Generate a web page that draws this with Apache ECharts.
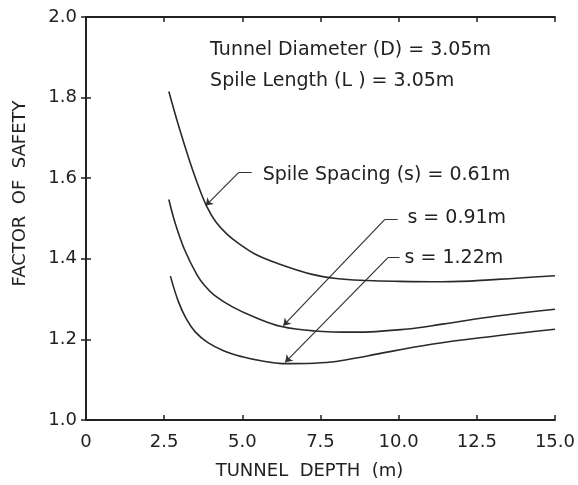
<!DOCTYPE html>
<html>
<head>
<meta charset="utf-8">
<script src="https://cdn.jsdelivr.net/npm/echarts@6/dist/echarts.min.js"></script>
<style>
  html, body { margin: 0; padding: 0; background: #fff; }
  #chart { width: 578px; height: 485px; }
</style>
</head>
<body>
<div id="chart"></div>
<script>
// tunnel depth (m) vs factor of safety, one curve per spile spacing
const depth061 = [2.65, 2.95, 3.25, 3.55, 3.85, 4.15, 4.5, 4.9, 5.4, 6.15, 7.2, 8.0, 9.0, 10.0, 11.4, 13.15, 15.0];
const fos061   = [1.815, 1.733, 1.658, 1.590, 1.532, 1.492, 1.462, 1.437, 1.412, 1.388, 1.362, 1.351, 1.346, 1.344, 1.343, 1.349, 1.358];

const depth091 = [2.65, 2.85, 3.15, 3.55, 3.8, 4.1, 4.7, 5.4, 6.25, 7.3, 8.6, 10.3, 11.4, 13.15, 15.0];
const fos091   = [1.547, 1.489, 1.423, 1.360, 1.333, 1.310, 1.280, 1.255, 1.232, 1.221, 1.218, 1.226, 1.238, 1.258, 1.275];

const depth122 = [2.7, 2.95, 3.2, 3.5, 3.9, 4.4, 5.0, 5.6, 6.3, 7.3, 8.0, 9.0, 11.05, 13.15, 15.0];
const fos122   = [1.357, 1.295, 1.252, 1.218, 1.192, 1.172, 1.157, 1.147, 1.140, 1.141, 1.145, 1.159, 1.188, 1.209, 1.225];

// annotation text, anchored at its left-middle point (data units)
const noteText = ['Tunnel Diameter (D) = 3.05m', 'Spile Length (L ) = 3.05m', 'Spile Spacing (s) = 0.61m', 's = 0.91m', 's = 1.22m'];
const noteX = [3.97, 3.97, 5.65, 10.28, 10.19];
const noteY = [1.918, 1.842, 1.609, 1.500, 1.401];

// leader lines: short horizontal stub at the text, then a diagonal to the arrow tip on the curve
const stubs = [
  [[5.3, 1.614], [4.88, 1.614]],
  [[9.97, 1.498], [9.56, 1.498]],
  [[10.03, 1.403], [9.66, 1.403]],
];
const pointers = [
  [[4.88, 1.614], [3.83, 1.532]],
  [[9.56, 1.498], [6.31, 1.234]],
  [[9.66, 1.403], [6.37, 1.143]],
];

const xTicks = [0, 2.5, 5, 7.5, 10, 12.5, 15];

const ink = '#222';
const font = 'DejaVu Sans';

const zip = (xs, ys) => xs.map((x, i) => [x, ys[i]]);

const curve = (name, xs, ys) => ({
  name,
  type: 'line',
  data: zip(xs, ys),
  smooth: 0.4,
  showSymbol: false,
  lineStyle: { color: '#2a2a2a', width: 1.6 },
  silent: true,
});

const leader = (coords, arrow) => ({
  type: 'lines',
  coordinateSystem: 'cartesian2d',
  silent: true,
  symbol: arrow ? ['none', 'arrow'] : ['none', 'none'],
  symbolSize: 7,
  lineStyle: { color: '#333', width: 1.2, opacity: 1 },
  data: coords.map(c => ({ coords: c })),
});

const chart = echarts.init(document.getElementById('chart'), null, { renderer: 'canvas' });

const frameAxis = {
  show: true,
  axisLine: { show: true, lineStyle: { color: ink, width: 1.8 } },
  axisTick: { show: true, inside: true, length: 5, lineStyle: { color: ink, width: 1.5 } },
  axisLabel: { show: false },
  splitLine: { show: false },
};

chart.setOption({
  animation: false,
  backgroundColor: '#fff',
  grid: { left: 86, right: 12, top: 17, bottom: 64 },
  xAxis: [
    {
      type: 'value',
      min: 0, max: 15, interval: 2.5,
      name: 'TUNNEL  DEPTH  (m)',
      nameLocation: 'middle',
      nameGap: 42,
      nameTextStyle: { color: ink, fontSize: 18, fontFamily: font, padding: [0, 22, 0, 0] },
      axisLine: { lineStyle: { color: ink, width: 1.8 } },
      axisTick: { inside: true, length: 5, lineStyle: { color: ink, width: 1.5 } },
      axisLabel: {
        color: ink, fontSize: 18, fontFamily: font, margin: 13,
        formatter: v => (v === xTicks[0] ? '0' : v.toFixed(1)),
      },
      splitLine: { show: false },
    },
    Object.assign({ type: 'value', position: 'top', min: 0, max: 15, interval: 2.5 }, frameAxis),
  ],
  yAxis: [
    {
      type: 'value',
      min: 1.0, max: 2.0, interval: 0.2,
      name: 'FACTOR  OF  SAFETY',
      nameLocation: 'middle',
      nameGap: 57,
      nameTextStyle: { color: ink, fontSize: 18, fontFamily: font, padding: [0, 0, 0, 50] },
      axisLine: { show: true, lineStyle: { color: ink, width: 1.8 } },
      axisTick: { show: true, inside: true, length: 5, lineStyle: { color: ink, width: 1.5 } },
      axisLabel: { color: ink, fontSize: 18, fontFamily: font, margin: 9, formatter: v => v.toFixed(1) },
      splitLine: { show: false },
    },
    Object.assign({ type: 'value', position: 'right', min: 1.0, max: 2.0, interval: 0.2 }, frameAxis),
  ],
  series: [
    curve('s = 0.61 m', depth061, fos061),
    curve('s = 0.91 m', depth091, fos091),
    curve('s = 1.22 m', depth122, fos122),
    leader(stubs, false),
    leader(pointers, true),
    {
      type: 'scatter',
      silent: true,
      symbolSize: 0,
      itemStyle: { opacity: 1 },
      data: noteText.map((t, i) => [noteX[i], noteY[i], t]),
      label: {
        show: true,
        position: 'right',
        distance: 0,
        color: ink,
        fontSize: 19,
        fontFamily: font,
        formatter: p => p.value[2],
      },
    },
  ],
});
</script>
</body>
</html>
